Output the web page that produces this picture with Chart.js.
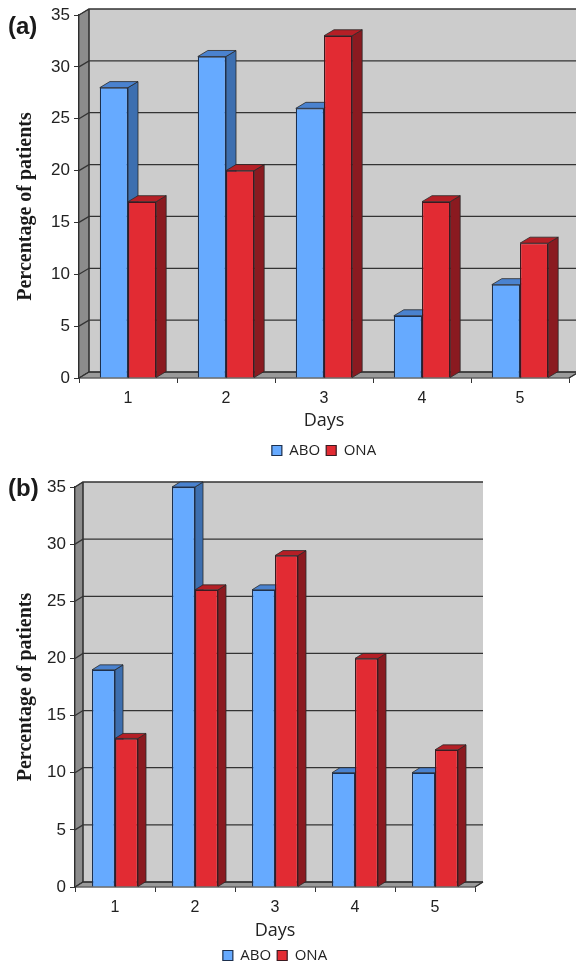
<!DOCTYPE html>
<html>
<head>
<meta charset="utf-8">
<script src="https://cdn.jsdelivr.net/npm/chart.js@4"></script>
<style>
body { margin: 0; background: #fff; }
#wrap { position: relative; width: 576px; height: 967px; overflow: hidden; }
canvas { position: absolute; left: 0; }
.panel { position: absolute; left: 8px; font: bold 24px "Liberation Sans", Arial, sans-serif; color: #1a1a1a; }
</style>
</head>
<body>
<div id="wrap">
  <canvas id="chartA" width="576" height="470" style="top:0"></canvas>
  <canvas id="chartB" width="576" height="503" style="top:470px"></canvas>
  <span class="panel" style="top:12px">(a)</span>
  <span class="panel" style="top:474px">(b)</span>
</div>
<script>
const days = ['1', '2', '3', '4', '5'];
const aboA = [28, 31, 26, 6, 9];
const onaA = [17, 20, 33, 17, 13];
const aboB = [19, 35, 26, 10, 10];
const onaB = [13, 26, 29, 20, 12];
const seriesNames = ['ABO', 'ONA'];

const blue = { front: '#66aaff', side: '#3d6fb0', top: '#4a82cf' };
const red = { front: '#e22b33', side: '#8a1a20', top: '#b51f26' };
const lineColor = '#333333';

// fake 3D walls and bar sides, all hung off the chart's own scales
const walls3d = {
    id: 'walls3d',
    beforeDatasetsDraw(chart, args, opts) {
        const ctx = chart.ctx;
        const y = chart.scales.y;
        const a = chart.chartArea;
        const dx = opts.dx, dy = opts.dy;
        ctx.save();

        ctx.fillStyle = '#cccccc';
        ctx.fillRect(a.left + dx, a.top - dy, a.right - a.left, a.bottom - a.top);

        poly(ctx, [[a.left, a.top], [a.left + dx, a.top - dy], [a.left + dx, a.bottom - dy], [a.left, a.bottom]], '#8c8c8c');
        poly(ctx, [[a.left, a.bottom], [a.left + dx, a.bottom - dy], [a.right + dx, a.bottom - dy], [a.right, a.bottom]], '#9a9a9a');

        ctx.strokeStyle = lineColor;
        ctx.lineWidth = 1.3;
        y.ticks.forEach((t, i) => {
            const py = y.getPixelForTick(i);
            ctx.beginPath();
            ctx.moveTo(a.left, py);
            ctx.lineTo(a.left + dx, py - dy);
            ctx.lineTo(a.right + dx, py - dy);
            ctx.stroke();
        });
        ctx.beginPath();
        ctx.moveTo(a.left + dx, a.top - dy);
        ctx.lineTo(a.left + dx, a.bottom - dy);
        ctx.stroke();

        ctx.beginPath();
        ctx.moveTo(a.right, a.bottom);
        ctx.lineTo(a.right + dx, a.bottom - dy);
        ctx.stroke();

        [blue, red].forEach((col, d) => {
            chart.getDatasetMeta(d).data.forEach(bar => {
                const l = bar.x - bar.width / 2, r = bar.x + bar.width / 2;
                poly(ctx, [[r, bar.y], [r + dx, bar.y - dy], [r + dx, bar.base - dy], [r, bar.base]], col.side);
                poly(ctx, [[l, bar.y], [l + dx, bar.y - dy], [r + dx, bar.y - dy], [r, bar.y]], col.top);
            });
        });
        ctx.restore();
    }
};

function poly(ctx, pts, fill) {
    ctx.beginPath();
    pts.forEach((p, i) => i ? ctx.lineTo(p[0], p[1]) : ctx.moveTo(p[0], p[1]));
    ctx.closePath();
    ctx.fillStyle = fill;
    ctx.fill();
    ctx.strokeStyle = '#2a2a2a';
    ctx.lineWidth = 0.8;
    ctx.stroke();
}

function makeChart(id, abo, ona, o) {
    new Chart(document.getElementById(id).getContext('2d'), {
        type: 'bar',
        data: {
            labels: days,
            datasets: [{
                label: seriesNames[0],
                data: abo,
                backgroundColor: blue.front,
                borderColor: '#1c2f4d',
                borderWidth: 1.2
            }, {
                label: seriesNames[1],
                data: ona,
                backgroundColor: red.front,
                borderColor: '#3a1a20',
                borderWidth: 1.2
            }]
        },
        plugins: [walls3d],
        options: {
            responsive: false,
            animation: false,
            categoryPercentage: 0.575,
            barPercentage: 1,
            layout: { padding: o.padding },
            plugins: {
                walls3d: { dx: o.dx, dy: o.dy },
                tooltip: { enabled: false },
                legend: {
                    position: 'bottom',
                    fullSize: false,
                    labels: {
                        boxWidth: 10,
                        boxHeight: 10,
                        padding: 6,
                        color: '#222',
                        font: { family: 'Open Sans', size: 15 }
                    }
                }
            },
            scales: {
                x: {
                    afterFit(s) { s.height = o.xHeight; },
                    border: { color: lineColor, width: 1.3 },
                    grid: { drawOnChartArea: false, color: lineColor, tickLength: 5 },
                    ticks: { color: '#222', padding: 6, font: { family: 'Liberation Sans', size: 16 } },
                    title: {
                        display: true,
                        text: 'Days',
                        color: '#222',
                        padding: { top: 1, bottom: o.daysGap },
                        font: { family: 'Open Sans', size: 18 }
                    }
                },
                y: {
                    min: 0,
                    max: 35,
                    afterFit(s) { s.width = o.axisWidth; },
                    border: { color: lineColor, width: 1.3 },
                    grid: { drawOnChartArea: false, color: lineColor, tickLength: 5 },
                    ticks: { stepSize: 5, color: '#222', padding: 4, font: { family: 'Liberation Sans', size: 17 } },
                    title: {
                        display: true,
                        text: 'Percentage of patients' + o.titleTail,
                        color: '#1a1a1a',
                        padding: { top: 2, bottom: 0 },
                        font: { family: 'Liberation Serif', size: 20, weight: 'bold' }
                    }
                }
            }
        }
    });
}

makeChart('chartA', aboA, onaA, { axisWidth: 67, xHeight: 59, daysGap: 5, titleTail: '    ', dx: 10, dy: 6, padding: { left: 12, right: 7, top: 15, bottom: 2 } });
makeChart('chartB', aboB, onaB, { axisWidth: 63, xHeight: 55, daysGap: 0, titleTail: '', dx: 8, dy: 5, padding: { left: 12, right: 101, top: 17, bottom: 0 } });
</script>
</body>
</html>
